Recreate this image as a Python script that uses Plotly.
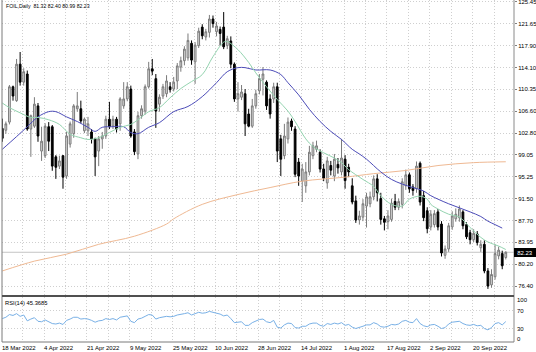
import plotly.graph_objects as go

# ---------------- data ----------------
bar_open = [
    103.6, 103.3, 104.7, 110.8, 108.4, 114.7, 111.6, 113.0, 103.5, 104.0,
    107.5, 99.7, 98.9, 103.9, 103.9, 98.7, 97.1, 98.9, 95.4, 100.9,
    102.7, 107.0, 107.0, 103.2, 103.2, 103.0, 101.8, 99.7, 101.8, 102.3,
    105.2, 104.0, 105.2, 104.4, 107.5, 108.7, 110.4, 103.0, 99.2, 105.8,
    106.6, 110.8, 113.9, 112.2, 107.8, 109.2, 109.6, 110.8, 110.4, 111.8,
    114.2, 115.3, 115.8, 118.3, 115.1, 117.9, 121.1, 119.4, 120.2, 122.5,
    120.3, 120.7, 121.1, 117.9, 118.7, 114.7, 108.7, 109.0, 109.6, 106.1,
    104.0, 107.5, 110.1, 112.1, 111.6, 108.7, 108.7, 110.8, 101.8, 98.9,
    101.8, 104.9, 103.5, 97.8, 94.5, 93.7, 96.1, 98.9, 100.0, 99.5,
    96.6, 94.2, 97.2, 95.4, 97.4, 96.1, 98.3, 96.9, 93.7, 91.1,
    87.8, 88.3, 90.2, 90.6, 91.8, 94.9, 91.5, 88.0, 87.5, 87.9,
    91.0, 90.0, 90.5, 93.7, 95.6, 93.5, 93.2, 97.6, 92.0, 89.4,
    86.6, 87.0, 89.2, 87.1, 81.7, 82.8, 86.6, 88.0, 88.2, 89.2,
    87.0, 85.6, 84.4, 85.4, 83.0, 83.6, 79.0, 76.6, 78.0, 81.6,
    82.0, 81.32]
bar_high = [
    105.3, 104.8, 111.1, 111.0, 115.6, 116.8, 114.0, 113.6, 106.0, 109.0,
    108.0, 103.9, 104.5, 104.7, 104.2, 99.0, 98.9, 99.0, 103.0, 104.8,
    107.8, 109.9, 108.4, 105.5, 105.6, 103.5, 102.0, 102.3, 103.0, 105.8,
    108.2, 105.8, 105.6, 109.0, 111.6, 111.6, 111.0, 103.5, 106.5, 107.6,
    111.2, 115.1, 115.6, 113.0, 109.5, 111.3, 112.8, 111.6, 112.5, 114.9,
    116.0, 117.8, 120.0, 118.8, 118.5, 121.0, 121.6, 120.8, 123.2, 123.1,
    122.0, 121.2, 123.7, 119.6, 119.5, 115.0, 111.6, 111.1, 110.4, 107.0,
    108.7, 110.3, 113.0, 114.2, 111.9, 109.5, 111.5, 111.5, 102.5, 104.4,
    105.5, 105.3, 104.0, 98.5, 97.5, 97.8, 100.6, 101.3, 101.5, 100.0,
    97.5, 98.7, 98.0, 99.2, 98.5, 101.8, 99.0, 97.5, 95.0, 92.0,
    89.4, 91.4, 92.5, 92.7, 95.5, 95.7, 92.5, 88.5, 89.5, 91.5,
    92.3, 91.5, 95.0, 96.5, 96.0, 94.0, 97.9, 97.9, 92.8, 90.0,
    89.5, 89.5, 89.7, 87.6, 83.4, 87.3, 89.3, 89.8, 90.3, 89.5,
    87.4, 86.1, 86.2, 85.9, 84.3, 84.3, 79.5, 79.3, 83.6, 83.2,
    82.5, 82.40]
bar_low = [
    101.3, 102.7, 104.3, 108.4, 108.2, 111.0, 111.0, 103.2, 98.7, 103.7,
    101.3, 98.0, 98.5, 99.7, 96.3, 94.9, 96.6, 93.2, 94.9, 100.3,
    102.0, 106.5, 104.5, 102.8, 102.3, 101.0, 95.4, 97.1, 100.1, 101.8,
    103.5, 103.5, 102.9, 103.2, 107.0, 108.3, 102.0, 99.0, 98.3, 105.3,
    106.0, 110.5, 112.8, 103.7, 106.5, 108.7, 109.0, 109.8, 110.0, 110.4,
    113.4, 114.5, 115.3, 114.6, 111.3, 117.5, 119.0, 118.8, 119.3, 121.0,
    119.5, 117.9, 117.3, 117.3, 114.0, 108.2, 106.5, 108.5, 102.3, 103.8,
    103.7, 107.0, 109.5, 109.3, 106.8, 105.3, 108.0, 97.8, 95.4, 98.3,
    101.0, 103.2, 95.2, 93.7, 90.9, 92.5, 95.5, 98.3, 99.5, 96.0,
    94.5, 93.2, 95.5, 94.5, 95.8, 95.5, 93.2, 95.2, 90.5, 87.3,
    87.0, 87.6, 86.5, 90.0, 91.2, 91.0, 87.0, 86.0, 86.2, 87.5,
    89.5, 89.5, 89.8, 93.0, 92.5, 92.0, 92.5, 90.3, 87.6, 85.5,
    86.0, 86.5, 86.0, 81.5, 81.1, 82.3, 86.1, 87.5, 87.5, 86.2,
    84.5, 83.6, 84.0, 83.4, 82.3, 78.6, 75.9, 76.1, 77.5, 81.0,
    79.3, 80.99]
bar_close = [
    101.9, 104.4, 110.8, 109.2, 114.7, 111.6, 113.4, 103.5, 105.8, 107.8,
    102.3, 101.4, 104.0, 101.4, 97.1, 96.9, 98.0, 95.2, 102.3, 104.4,
    107.5, 107.5, 104.9, 105.2, 104.4, 101.8, 98.7, 101.8, 102.3, 105.2,
    103.9, 105.2, 103.5, 108.7, 108.7, 110.8, 102.3, 99.6, 105.8, 107.0,
    110.8, 113.9, 113.5, 106.6, 109.0, 110.8, 111.8, 110.3, 111.6, 114.4,
    115.3, 117.3, 118.8, 115.4, 118.0, 120.4, 119.6, 120.3, 122.5, 121.7,
    121.3, 120.0, 117.7, 119.1, 114.7, 108.7, 109.6, 109.9, 104.4, 104.0,
    107.5, 109.6, 112.2, 113.0, 107.5, 106.1, 110.8, 99.7, 98.3, 102.3,
    104.7, 103.9, 95.7, 95.4, 96.6, 96.1, 99.5, 100.6, 100.6, 96.6,
    95.0, 98.0, 96.4, 98.3, 96.8, 98.5, 94.6, 96.1, 90.9, 87.8,
    88.5, 90.6, 91.8, 91.8, 94.9, 92.5, 87.9, 87.4, 88.5, 90.7,
    90.0, 91.0, 94.4, 95.6, 93.2, 92.9, 97.1, 90.9, 88.2, 86.3,
    88.8, 88.9, 86.6, 82.1, 82.8, 86.8, 88.5, 88.8, 89.7, 86.8,
    84.9, 84.4, 85.5, 83.9, 83.6, 79.0, 76.4, 78.4, 82.0, 82.6,
    79.9, 82.23]

# fast moving average (green)
ma_fast_bar = [0, 2, 5, 8, 10, 13, 16, 19, 22, 24, 27, 30, 33, 36, 38, 41, 44, 47, 50, 53,
               56, 59, 62, 63, 66, 69, 71, 74, 77, 80, 82, 85, 87, 90, 93, 95, 97, 101, 104, 106,
               109, 112, 114, 117, 119, 120, 122, 125, 128, 131, 134, 136, 139, 141]
ma_fast_val = [108.0, 107.2, 106.3, 105.5, 105.5, 105.1, 104.3, 102.6, 102.0, 101.7,
               102.0, 102.9, 103.8, 104.3, 105.1, 106.5, 107.2, 108.9, 110.5, 111.7,
               112.9, 116.0, 118.5, 118.6, 117.2, 115.0, 113.2, 110.8, 108.6, 106.6,
               104.8, 101.8, 100.5, 99.4, 98.5, 97.7, 96.5, 94.8, 93.6, 92.0,
               90.5, 90.2, 91.4, 91.9, 91.4, 90.5, 89.7, 88.8, 88.3, 86.5,
               84.8, 84.0, 83.3, 82.7]
# medium moving average (blue)
ma_mid_bar = [0, 4, 7, 10, 13, 15, 18, 21, 24, 26, 28, 31, 34, 36, 38, 41, 44, 48, 52, 56,
              60, 63, 66, 68, 71, 75, 78, 80, 83, 86, 89, 92, 95, 98, 100, 102, 106, 109, 112, 115,
              118, 120, 122, 125, 128, 131, 134, 136, 138, 140]
ma_mid_val = [100.0, 102.2, 103.9, 105.6, 106.5, 106.5, 105.6, 104.8, 103.8, 103.1,
              103.8, 103.9, 103.9, 102.9, 102.7, 103.8, 104.6, 106.5, 107.4, 109.1,
              111.5, 113.4, 114.1, 114.1, 113.7, 113.7, 112.9, 111.5, 109.4, 106.9,
              104.8, 103.1, 101.7, 100.0, 99.2, 98.3, 96.1, 94.8, 94.0, 93.4,
              92.8, 92.0, 91.4, 90.6, 89.9, 89.2, 88.4, 87.6, 87.0, 86.4]
# slow moving average (orange)
ma_slow_bar = [0, 9, 18, 27, 37, 46, 48, 56, 66, 75, 84, 96, 104, 113, 122, 132, 141]
ma_slow_val = [79.0, 80.7, 81.9, 83.6, 85.0, 87.1, 88.0, 90.5, 92.2, 93.4, 94.5, 95.2,
               95.8, 96.35, 97.2, 97.7, 97.85]

rsi_val = [
    52, 55, 61, 59, 63, 57, 60, 47, 51, 54,
    46, 45, 49, 45, 41, 40, 42, 39, 48, 51,
    55, 55, 51, 52, 51, 48, 44, 47, 48, 52,
    50, 52, 49, 55, 56, 58, 46, 43, 51, 53,
    57, 61, 60, 51, 54, 56, 57, 56, 57, 60,
    61, 63, 65, 60, 63, 66, 64, 65, 68, 66,
    65, 62, 58, 60, 52, 43, 44, 45, 37, 37,
    43, 46, 50, 51, 45, 43, 48, 33, 31, 38,
    42, 41, 32, 31, 35, 35, 40, 42, 42, 37,
    35, 41, 39, 42, 40, 43, 37, 39, 33, 30,
    32, 35, 38, 38, 43, 40, 34, 33, 35, 39,
    38, 40, 46, 48, 44, 43, 52, 41, 36, 34,
    38, 39, 35, 30, 32, 40, 44, 45, 46, 41,
    38, 37, 39, 36, 37, 30, 27, 32, 41, 43,
    38, 45.3685]

date_labels = ["18 Mar 2022", "4 Apr 2022", "21 Apr 2022", "9 May 2022", "25 May 2022",
               "10 Jun 2022", "28 Jun 2022", "14 Jul 2022", "1 Aug 2022", "17 Aug 2022",
               "2 Sep 2022", "20 Sep 2022"]
date_label_bar = [0, 12, 24, 36, 48, 60, 72, 84, 96, 108, 120, 132]

price_ticks = [125.45, 121.65, 117.90, 114.10, 110.35, 106.60, 102.80, 99.05,
               95.25, 91.50, 87.70, 83.95, 80.20, 76.40]
rsi_ticks = [100, 70, 30, 0]
rsi_levels = [30, 70]

symbol_text = "FOIL,Daily  81.32 82.40 80.99 82.23"
rsi_text = "RSI(14) 45.3685"
last_price = 82.23

# ---------------- figure ----------------
bar_index = list(range(len(bar_close)))
grid_bars = [6 * k - 0.3 for k in range(1, 24)]

W, H = 536, 352
ML, MR, MT, MB = 2, 22, 0, 10
plot_h = H - MT - MB
main_bottom = 47 / plot_h
rsi_top = 45 / plot_h
FONT = "Liberation Sans"
GRID = "#cfcfcf"
GDASH = "1px,2px"

fig = go.Figure()
fig.add_trace(go.Candlestick(
    x=bar_index, open=bar_open, high=bar_high, low=bar_low, close=bar_close,
    increasing=dict(line=dict(color="#7a7a7a", width=1), fillcolor="#dedede"),
    decreasing=dict(line=dict(color="#000000", width=1), fillcolor="#000000"),
    whiskerwidth=0, showlegend=False, hoverinfo="skip", xaxis="x", yaxis="y"))
fig.add_trace(go.Scatter(x=ma_slow_bar, y=ma_slow_val, mode="lines", line=dict(color="#efb993", width=1, shape="spline"),
                         xaxis="x", yaxis="y", hoverinfo="skip"))
fig.add_trace(go.Scatter(x=ma_mid_bar, y=ma_mid_val, mode="lines", line=dict(color="#4c4cb8", width=1, shape="spline"),
                         xaxis="x", yaxis="y", hoverinfo="skip"))
fig.add_trace(go.Scatter(x=ma_fast_bar, y=ma_fast_val, mode="lines", line=dict(color="#94d4b0", width=1, shape="spline"),
                         xaxis="x", yaxis="y", hoverinfo="skip"))
fig.add_trace(go.Scatter(x=bar_index, y=rsi_val, mode="lines", line=dict(color="#78b0e6", width=1),
                         xaxis="x", yaxis="y2", hoverinfo="skip"))

shapes = [
    dict(type="line", xref="paper", yref="y", x0=0, x1=1, y0=last_price, y1=last_price,
         line=dict(color="#c4c4c4", width=1), layer="below"),
    dict(type="line", xref="paper", yref="paper", x0=0, x1=0, y0=0, y1=1, line=dict(color="#7a7a7a", width=1)),
    dict(type="line", xref="paper", yref="paper", x0=1, x1=1, y0=0, y1=1, line=dict(color="#8a8a8a", width=1)),
    dict(type="line", xref="paper", yref="paper", x0=0, x1=1, y0=0, y1=0, line=dict(color="#7a7a7a", width=1)),
    dict(type="line", xref="paper", yref="paper", x0=0, x1=1, y0=(main_bottom + rsi_top) / 2,
         y1=(main_bottom + rsi_top) / 2, line=dict(color="#505050", width=2)),
]

ann = []
ann.append(dict(text=symbol_text, xref="paper", yref="paper", x=0, y=1, xanchor="left", yanchor="top",
                xshift=2, yshift=-1, showarrow=False, font=dict(size=5.2, color="black", family=FONT)))
ann.append(dict(text=rsi_text, xref="paper", yref="paper", x=0, y=rsi_top, xanchor="left", yanchor="top",
                xshift=1, yshift=-1, showarrow=False, font=dict(size=5.8, color="black", family=FONT)))
for lab, b in zip(date_labels, date_label_bar):
    xpos = max(b - 0.3, 0)
    ann.append(dict(text=lab, xref="x", yref="paper", x=xpos, y=0, xanchor="left", yanchor="top",
                    xshift=-2, yshift=-1, showarrow=False, font=dict(size=6, color="black", family=FONT)))
rsi_shift = {100: -3, 70: 0, 30: 0, 0: 3}
for v in rsi_ticks:
    ann.append(dict(text=str(v), xref="paper", yref="y2", x=1, y=v, xanchor="left", yanchor="middle",
                    xshift=1, yshift=rsi_shift[v], showarrow=False, font=dict(size=6, color="black", family=FONT)))
ann.append(dict(text=f"{last_price:.2f}", xref="paper", yref="y", x=1, y=last_price, xanchor="left",
                yanchor="middle", showarrow=False, bgcolor="black", borderpad=1, borderwidth=0,
                width=20, height=7, font=dict(size=6, color="white", family=FONT)))

fig.update_layout(
    width=W, height=H,
    margin=dict(l=ML, r=MR, t=MT, b=MB, autoexpand=False),
    paper_bgcolor="white", plot_bgcolor="white", showlegend=False,
    boxgap=0.3,
    xaxis=dict(domain=[0, 1], anchor="y2", range=[-0.08, 143.3], rangeslider=dict(visible=False),
               tickmode="array", tickvals=grid_bars, showticklabels=False, ticks="",
               showgrid=True, gridcolor=GRID, griddash=GDASH, gridwidth=1, zeroline=False, showline=False),
    yaxis=dict(domain=[main_bottom, 1], range=[74.85, 125.78], side="right", anchor="x",
               tickmode="array", tickvals=price_ticks, ticktext=[f"{v:.2f}" for v in price_ticks],
               ticks="outside", ticklen=2, tickcolor="#808080", ticklabeloverflow="allow",
               tickfont=dict(size=6, color="black", family=FONT),
               showgrid=True, gridcolor=GRID, griddash=GDASH, gridwidth=1, zeroline=False, showline=False),
    yaxis2=dict(domain=[0, rsi_top], range=[0, 100], side="right", anchor="x",
                tickmode="array", tickvals=rsi_levels, showticklabels=False, ticks="",
                showgrid=True, gridcolor=GRID, griddash=GDASH, gridwidth=1, zeroline=False, showline=False),
    shapes=shapes, annotations=ann,
)

fig.write_html("out.html")
